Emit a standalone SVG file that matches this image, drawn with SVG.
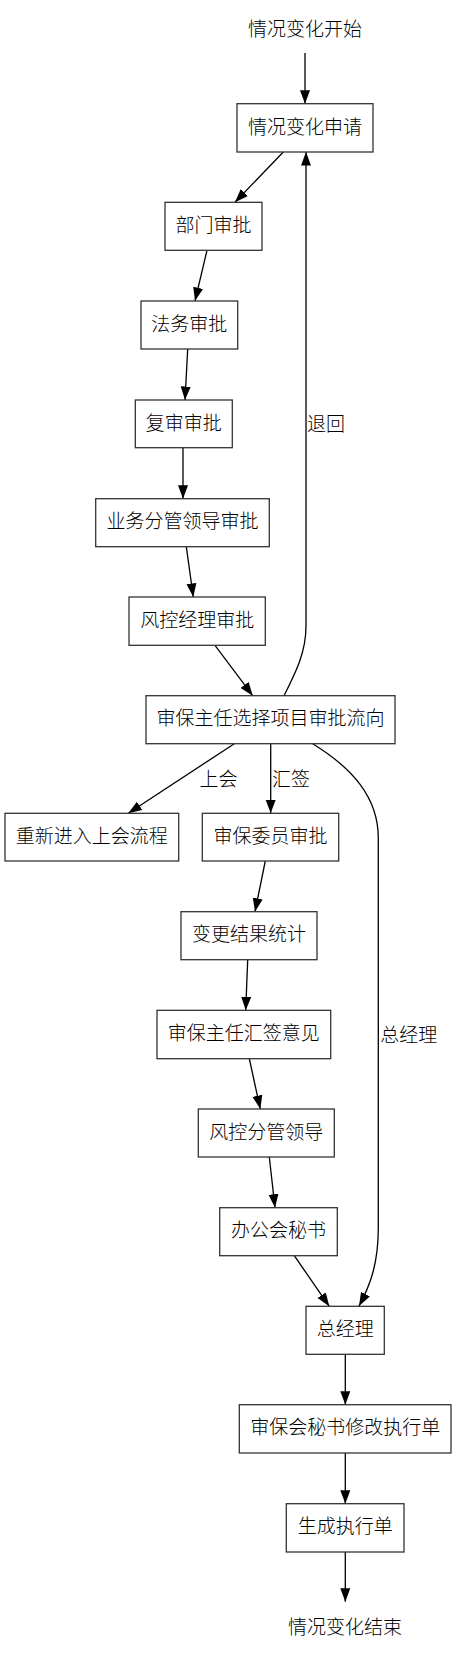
<svg xmlns="http://www.w3.org/2000/svg" width="457" height="1656" viewBox="0 0 457 1656">
<style>
text{font-family:"Liberation Sans","Noto Sans CJK SC",sans-serif;font-size:19px;font-weight:300;fill:#000;text-anchor:middle}
.n rect{fill:#fff;stroke:#333;stroke-width:1.3}
.e path{fill:none;stroke:#000;stroke-width:1.3;marker-end:url(#ah)}
</style>
<defs>
<marker id="ah" markerUnits="userSpaceOnUse" markerWidth="14" markerHeight="11" viewBox="0 0 14 11" refX="13.5" refY="5.5" orient="auto">
<path d="M0,0.5 L13.5,5.5 L0,10.5 Z" fill="#000"/>
</marker>
</defs>
<rect width="457" height="1656" fill="#fff"/>
<g id="edges" class="e">
<path d="M305,53 L305,103.7"/>
<path d="M283.3,152 L235,202.3"/>
<path d="M207,250.3 L195,301"/>
<path d="M187.7,349 L185,400"/>
<path d="M183,447.7 L183,498.7"/>
<path d="M186.3,546.7 L193.3,597"/>
<path d="M215,645.3 L252.7,695.7"/>
<path d="M284,695.7 C296,672 306,652 306,626 L306,152"/>
<path d="M234.3,743.7 L128.3,813.3"/>
<path d="M270.7,743.7 L270.7,813.3"/>
<path d="M312.7,743.7 C352,768 378.3,797 378.3,838 L378.3,1228 C378.3,1262 371,1284 359,1306"/>
<path d="M265.3,861 L255,911.7"/>
<path d="M247.7,959.7 L245.7,1010.3"/>
<path d="M249.3,1058.7 L260.3,1109"/>
<path d="M269.3,1157 L275,1207.7"/>
<path d="M294.3,1255.7 L329.3,1306.3"/>
<path d="M345.3,1354.3 L345.3,1404.7"/>
<path d="M345.3,1453 L345.3,1503.7"/>
<path d="M345.3,1552 L345.3,1601.7"/>
</g>
<g id="edge-labels">
<text x="326" y="430.5">退回</text>
<text x="218.5" y="785.5">上会</text>
<text x="291" y="785.5">汇签</text>
<text x="408.7" y="1042">总经理</text>
</g>
<g id="start"><text x="305" y="35.5">情况变化开始</text></g>
<g id="n1" class="n"><rect x="237" y="103.7" width="136" height="48.3"/><text x="305" y="133.5">情况变化申请</text></g>
<g id="n2" class="n"><rect x="165" y="202.3" width="97" height="48"/><text x="213.5" y="232">部门审批</text></g>
<g id="n3" class="n"><rect x="141" y="301" width="96.7" height="48"/><text x="189.3" y="330.5">法务审批</text></g>
<g id="n4" class="n"><rect x="135.3" y="400" width="97" height="47.7"/><text x="183.8" y="429.5">复审审批</text></g>
<g id="n5" class="n"><rect x="95.7" y="498.7" width="173.6" height="48"/><text x="182.5" y="528.2">业务分管领导审批</text></g>
<g id="n6" class="n"><rect x="129" y="597" width="136.3" height="48.3"/><text x="197.2" y="626.7">风控经理审批</text></g>
<g id="n7" class="n"><rect x="146" y="695.7" width="249" height="48"/><text x="270.5" y="725.2">审保主任选择项目审批流向</text></g>
<g id="n8" class="n"><rect x="5" y="813.3" width="173.7" height="47.7"/><text x="91.8" y="842.8">重新进入上会流程</text></g>
<g id="n9" class="n"><rect x="202.3" y="813.3" width="136.4" height="47.7"/><text x="270.5" y="842.8">审保委员审批</text></g>
<g id="n10" class="n"><rect x="181" y="911.7" width="136" height="48"/><text x="249" y="941.2">变更结果统计</text></g>
<g id="n11" class="n"><rect x="157" y="1010.3" width="173.7" height="48.4"/><text x="243.8" y="1040">审保主任汇签意见</text></g>
<g id="n12" class="n"><rect x="198.3" y="1109" width="136" height="48"/><text x="266.3" y="1138.5">风控分管领导</text></g>
<g id="n13" class="n"><rect x="219.7" y="1207.7" width="117.6" height="48"/><text x="278.5" y="1237.2">办公会秘书</text></g>
<g id="n14" class="n"><rect x="306" y="1306.3" width="78.3" height="48"/><text x="345.2" y="1335.8">总经理</text></g>
<g id="n15" class="n"><rect x="239.3" y="1404.7" width="211.7" height="48.3"/><text x="345.2" y="1434.3">审保会秘书修改执行单</text></g>
<g id="n16" class="n"><rect x="286.3" y="1503.7" width="117.7" height="48.3"/><text x="345.2" y="1533.3">生成执行单</text></g>
<g id="end"><text x="345" y="1633.5">情况变化结束</text></g>
</svg>
